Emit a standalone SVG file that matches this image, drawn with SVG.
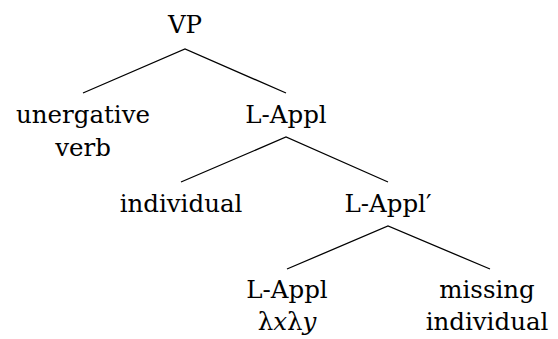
<svg xmlns="http://www.w3.org/2000/svg" width="558" height="339" viewBox="0 0 558 339">
<style>
text{font-family:"DejaVu Serif","Liberation Serif",serif;font-size:24.5px;fill:#000;text-anchor:middle}
.e{stroke:#000;stroke-width:1.3;fill:none}
.i{font-style:italic}
</style>
<rect width="558" height="339" fill="#fff"/>
<g id="connectors">
<path class="e" d="M83,93 L185,49 L286,93"/>
<path class="e" d="M181,182 L286,137 L388,182"/>
<path class="e" d="M287,269 L388,226 L490,269"/>
</g>
<g id="vp"><text x="185" y="33">VP</text></g>
<g id="unergative"><text x="83" y="123">unergative</text><text x="83" y="156">verb</text></g>
<g id="lappl1"><text x="286" y="123">L-Appl</text></g>
<g id="individual"><text x="181" y="212">individual</text></g>
<g id="lapplbar"><text x="388" y="212">L-Appl′</text></g>
<g id="lappl2"><text x="287" y="298">L-Appl</text><text x="287" y="330">λ<tspan class="i">x</tspan>λ<tspan class="i">y</tspan></text></g>
<g id="missing"><text x="487" y="298">missing</text><text x="487" y="330">individual</text></g>
</svg>
